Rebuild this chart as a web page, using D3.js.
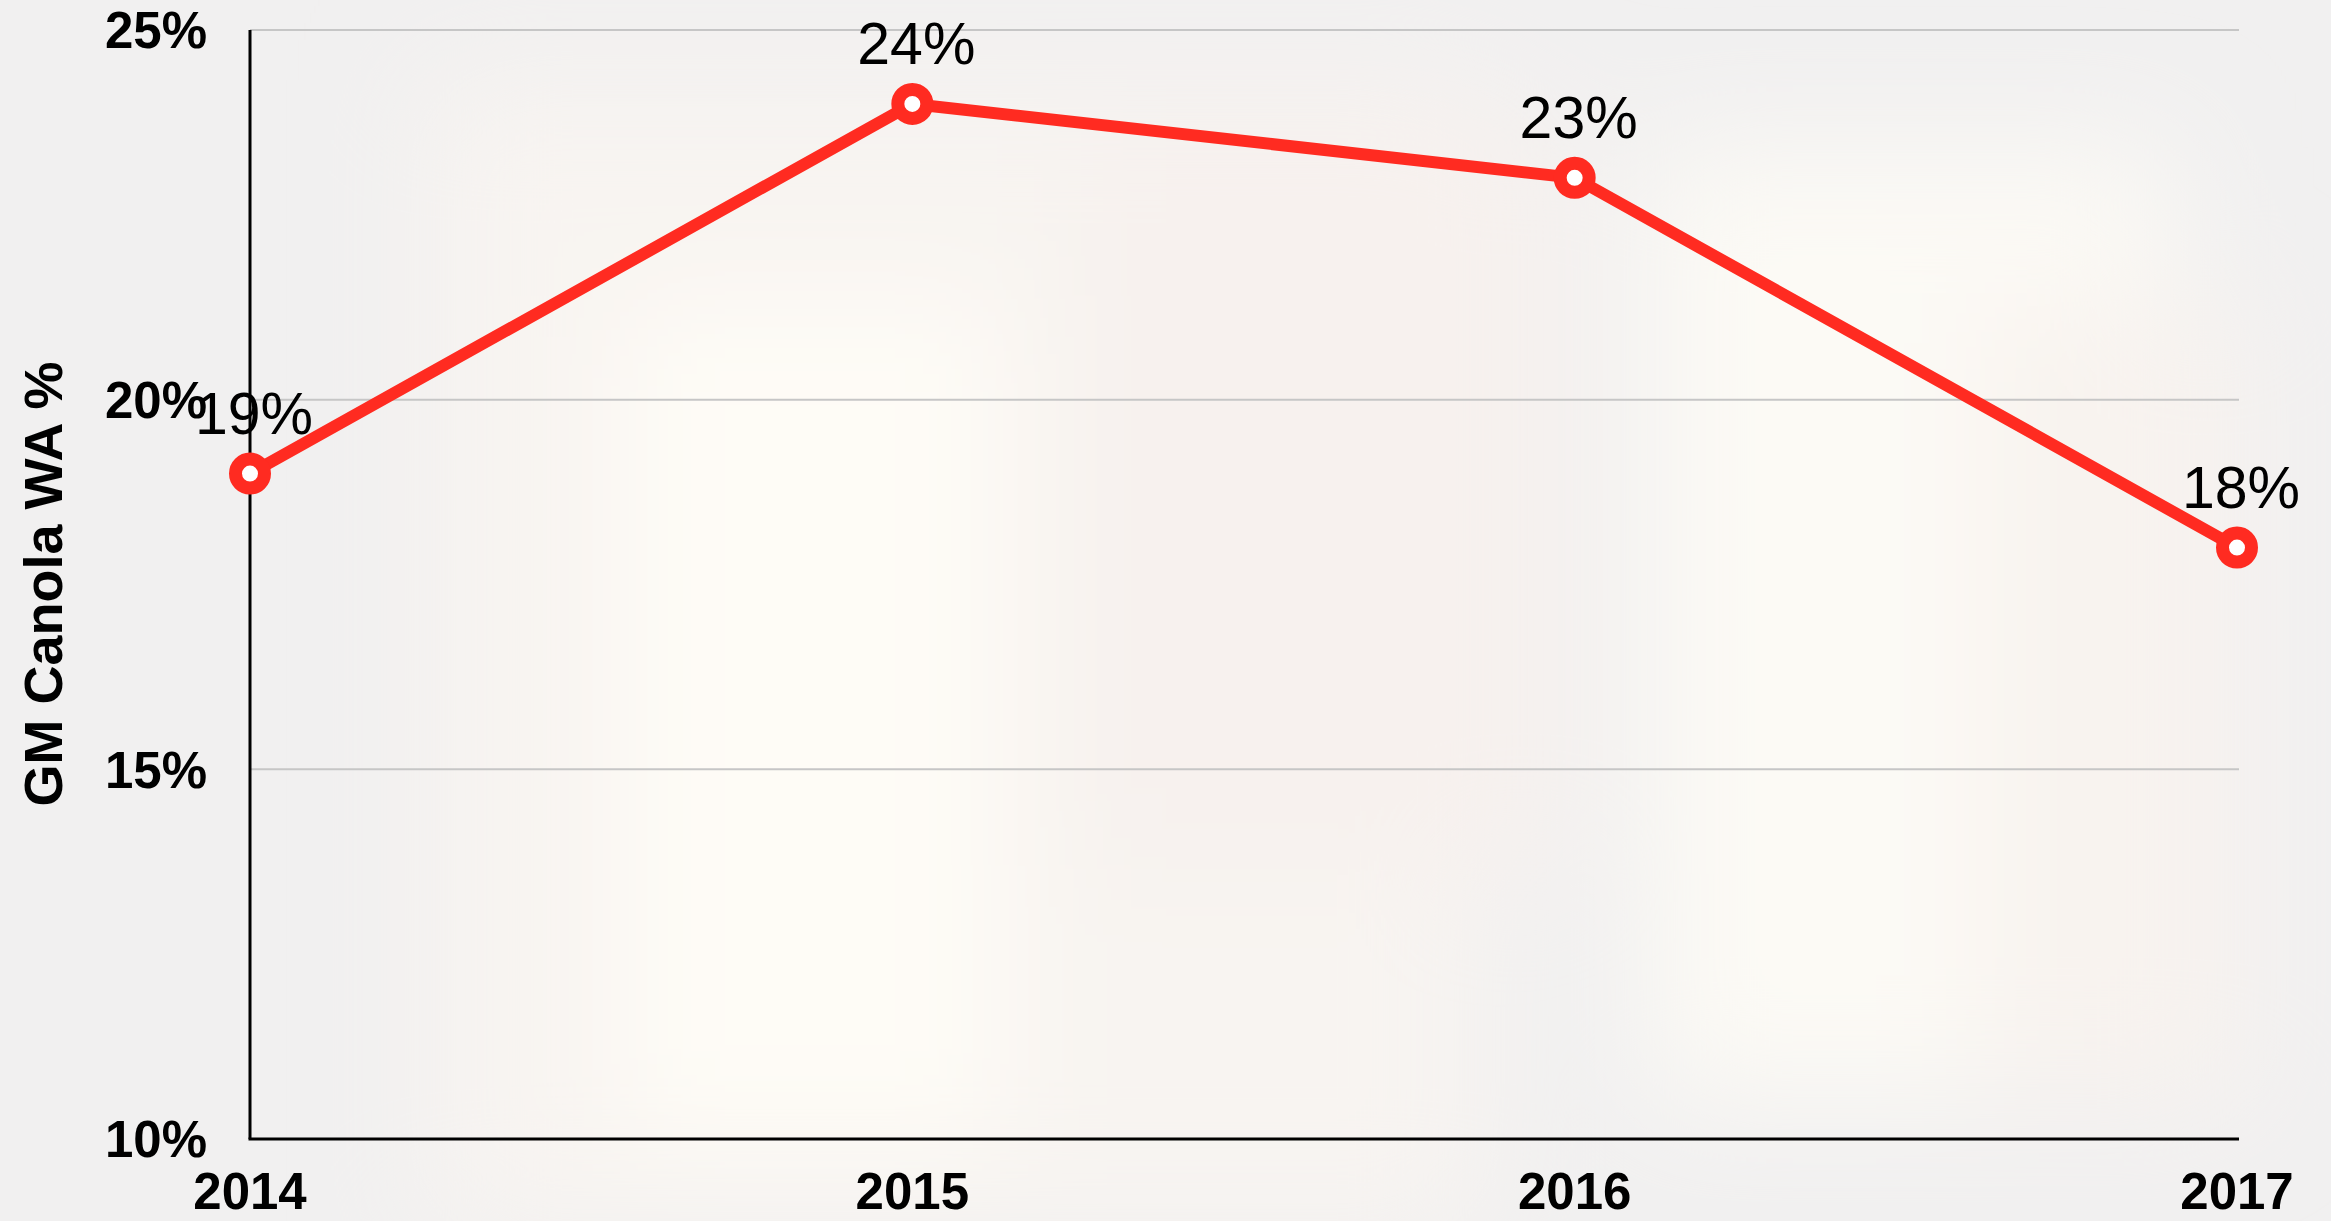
<!DOCTYPE html>
<html lang="en">
<head>
<meta charset="UTF-8">
<title>GM Canola WA %</title>
<script src="https://d3js.org/d3.v7.min.js"></script>
<style>
    html, body { margin: 0; padding: 0; background: #f1f0f0; overflow: hidden; }
    svg { display: block; }
    .tick-label { font-family: "Liberation Sans", Arial, sans-serif; font-weight: bold; font-size: 51px; fill: #000; }
    .value-label { font-family: "Liberation Sans", Arial, sans-serif; font-size: 59px; fill: #000; }
    .axis-title { font-family: "Liberation Sans", Arial, sans-serif; font-weight: bold; font-size: 54px; fill: #000; }
</style>
</head>
<body>
<svg id="chart" width="2331" height="1221"></svg>
<script>
    // data
    const years = ['2014', '2015', '2016', '2017'];
    const gmShare = [19, 24, 23, 18];
    const yTicks = [10, 15, 20, 25];

    const width = 2331, height = 1221;
    const margin = { top: 30, right: 92, bottom: 82, left: 250 };

    const svg = d3.select('#chart');

    // soft warm background glow (stand-in for the photo behind the chart)
    const defs = svg.append('defs');
    defs.append('filter').attr('id', 'blur')
        .attr('x', '-50%').attr('y', '-50%').attr('width', '200%').attr('height', '200%')
        .append('feGaussianBlur').attr('stdDeviation', 60);
    const glow = svg.append('g').attr('filter', 'url(#blur)');
    const patches = [
        [430, 80, 1050, 1150, '#f8f4f1'],
        [620, 300, 380, 850, '#fefcf6'],
        [1080, 120, 480, 750, '#f7f1ee'],
        [1650, 150, 520, 950, '#fcfaf5'],
        [1980, 300, 260, 800, '#f8f3ef']
    ];
    glow.selectAll('rect').data(patches).enter().append('rect')
        .attr('x', d => d[0]).attr('y', d => d[1])
        .attr('width', d => d[2]).attr('height', d => d[3])
        .attr('fill', d => d[4]);

    const x = d3.scalePoint()
        .domain(years)
        .range([margin.left, width - margin.right - 2]);

    const y = d3.scaleLinear()
        .domain([10, 25])
        .range([height - margin.bottom, margin.top]);

    // gridlines
    svg.append('g')
        .selectAll('line')
        .data(yTicks.filter(t => t > 10))
        .enter().append('line')
        .attr('x1', margin.left).attr('x2', width - margin.right)
        .attr('y1', d => y(d)).attr('y2', d => y(d))
        .attr('stroke', '#c6c6c6').attr('stroke-width', 2);

    // axis lines
    svg.append('line')
        .attr('x1', margin.left).attr('x2', margin.left)
        .attr('y1', y(25)).attr('y2', y(10))
        .attr('stroke', '#000').attr('stroke-width', 3);
    svg.append('line')
        .attr('x1', margin.left - 1.5).attr('x2', width - margin.right)
        .attr('y1', y(10)).attr('y2', y(10))
        .attr('stroke', '#000').attr('stroke-width', 3);

    // y tick labels
    svg.append('g')
        .selectAll('text')
        .data(yTicks)
        .enter().append('text')
        .attr('class', 'tick-label')
        .attr('x', 207)
        .attr('y', d => y(d))
        .attr('dy', '0.36em')
        .attr('text-anchor', 'end')
        .text(d => d + '%');

    // x tick labels
    svg.append('g')
        .selectAll('text')
        .data(years)
        .enter().append('text')
        .attr('class', 'tick-label')
        .attr('x', d => x(d))
        .attr('y', 1209)
        .attr('text-anchor', 'middle')
        .text(d => d);

    // y axis title
    svg.append('text')
        .attr('class', 'axis-title')
        .attr('transform', 'translate(62,584) rotate(-90)')
        .attr('text-anchor', 'middle')
        .text('GM Canola WA %');

    const points = years.map((yr, i) => ({ year: yr, value: gmShare[i] }));

    // line
    svg.append('path')
        .datum(points)
        .attr('fill', 'none')
        .attr('stroke', '#ff2b21')
        .attr('stroke-width', 12)
        .attr('stroke-linejoin', 'round')
        .attr('d', d3.line().x(d => x(d.year)).y(d => y(d.value)));

    // markers
    svg.append('g')
        .selectAll('circle')
        .data(points)
        .enter().append('circle')
        .attr('cx', d => x(d.year))
        .attr('cy', d => y(d.value))
        .attr('r', 14.5)
        .attr('fill', '#fff')
        .attr('stroke', '#ff2b21')
        .attr('stroke-width', 13);

    // value labels
    svg.append('g')
        .selectAll('text')
        .data(points)
        .enter().append('text')
        .attr('class', 'value-label')
        .attr('x', d => x(d.year) + 4)
        .attr('y', d => y(d.value) - 40)
        .attr('text-anchor', 'middle')
        .text(d => d.value + '%');
</script>
</body>
</html>
